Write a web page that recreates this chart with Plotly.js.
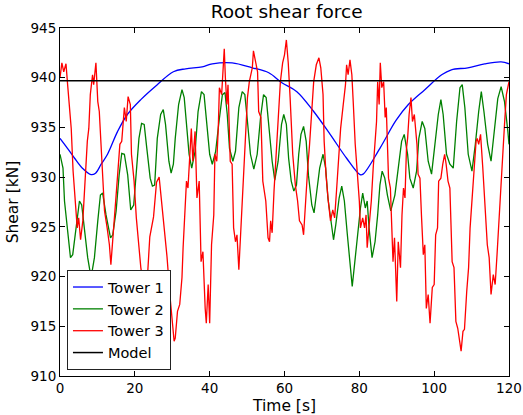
<!DOCTYPE html>
<html>
<head>
<meta charset="utf-8">
<script src="https://cdn.plot.ly/plotly-3.0.1.min.js"></script>
<style>html,body{margin:0;padding:0;background:#fff}#chart{width:523px;height:415px}</style>
</head>
<body>
<div id="chart"></div>
<script>
// Tower 1
var tower1Time = [0, 2, 3.9, 6, 8.3, 9.5, 11, 12.7, 15.4, 18, 21.6, 26, 30.3, 33.6, 38, 40.7, 46, 51.4, 55.8, 59.3, 63.3, 67.8, 72.2, 76.6, 80.2, 81, 85.5, 89.8, 93.1, 97.5, 102, 104.6, 109, 113.5, 117.9, 120];
var tower1Shear = [933.9, 932.9, 931.9, 930.9, 930.25, 930.4, 931.3, 932.3, 934.6, 936.3, 937.8, 939.3, 940.6, 940.9, 941.1, 941.4, 941.5, 941.0, 940.5, 939.5, 938.6, 936.6, 934.3, 931.9, 930.25, 930.3, 932.9, 935.7, 937.3, 938.8, 940.3, 940.8, 941.0, 941.4, 941.6, 941.4];

// Tower 2
var tower2Time = [0, 0.8, 1.2, 2.1, 2.8, 3.4, 4.3, 5.2, 5.8, 6.5, 7.4, 8.3, 9.2, 10.1, 10.8, 11.4, 12.3, 13.5, 14.1, 15, 15.8, 16.5, 17.2, 18.1, 18.9, 19.7, 20.4, 21.1, 21.8, 22.5, 23.2, 24.1, 24.7, 25.3, 26, 26.9, 27.6, 28.2, 29.1, 29.7, 30.3, 30.8, 31.7, 32.6, 33.2, 33.8, 34.5, 35.2, 36.1, 36.9, 37.8, 38.5, 39.4, 40, 40.7, 41.6, 42.5, 43.4, 44.1, 44.7, 45.3, 46.2, 46.9, 47.8, 48.7, 49.4, 50, 50.9, 51.8, 52.7, 53.6, 54.4, 55.1, 55.8, 56.7, 57.4, 58.3, 59.2, 59.8, 60.5, 61.1, 61.8, 62.5, 63.2, 63.8, 64.4, 65.1, 65.8, 66.4, 67.3, 67.9, 68.5, 69.4, 70.3, 71, 71.6, 72.5, 73.1, 73.7, 74.6, 75.3, 76, 76.8, 77.4, 78.1, 78.8, 79.5, 80.3, 80.9, 81.6, 82.1, 82.6, 83.4, 84.2, 84.9, 85.5, 86.1, 86.8, 87.5, 88.4, 89.5, 90.4, 91.3, 92, 92.9, 93.5, 94.4, 95.3, 95.9, 96.8, 97.5, 98.4, 99.3, 100.2, 101.1, 101.8, 102.4, 103.3, 104.2, 105.1, 106, 106.9, 107.5, 108.2, 109.1, 110.1, 111, 111.9, 112.6, 113.3, 114.3, 115.2, 116.1, 117, 117.9, 118.8, 119.7, 120];
var tower2Shear = [932.3, 930.9, 927.6, 924.2, 921.9, 922.2, 924.9, 927.6, 927.2, 924.9, 921.9, 919.9, 921.9, 925.6, 928.2, 928.4, 926.2, 923.9, 924.2, 926.6, 930.2, 932.4, 932.3, 930.2, 926.7, 927.2, 930.9, 933.9, 935.4, 935.3, 932.9, 929.9, 929.1, 929.2, 933.9, 936.3, 936.8, 935.3, 931.6, 930.4, 931.3, 933.9, 937.3, 938.8, 938.0, 934.9, 932.3, 930.9, 932.6, 936.6, 938.6, 938.3, 934.9, 932.3, 931.3, 932.6, 935.6, 938.3, 938.5, 936.3, 932.9, 931.6, 932.6, 937.0, 938.6, 938.3, 936.0, 932.3, 930.8, 932.3, 936.0, 938.3, 938.0, 934.9, 931.6, 929.7, 931.6, 935.3, 936.3, 935.3, 931.9, 929.6, 928.6, 929.2, 932.3, 934.3, 935.1, 933.6, 930.2, 927.2, 926.4, 928.2, 930.9, 932.3, 930.9, 927.9, 925.2, 923.7, 925.2, 927.9, 929.1, 927.6, 924.2, 921.5, 919.0, 921.5, 924.2, 926.9, 928.4, 926.9, 927.6, 924.9, 921.9, 923.5, 926.2, 929.2, 930.6, 929.9, 928.2, 926.6, 928.2, 930.9, 933.6, 934.3, 932.3, 929.9, 928.9, 930.6, 933.9, 935.6, 934.9, 931.6, 930.3, 933.3, 936.3, 937.8, 936.3, 932.3, 931.3, 930.9, 935.6, 939.0, 939.3, 937.0, 932.3, 930.6, 933.3, 936.6, 938.6, 936.6, 933.3, 931.6, 934.9, 937.9, 939.1, 937.6, 934.6, 933.3];

// Tower 3
var tower3Time = [0, 0.5, 1.0, 1.6, 2.1, 2.6, 3.0, 3.5, 4.1, 4.6, 5.0, 5.5, 6.1, 6.7, 7.3, 7.7, 8.1, 8.7, 9.0, 9.6, 10.1, 10.5, 11.2, 11.9, 12.6, 13.2, 13.6, 14.1, 14.7, 15.4, 16, 16.5, 17.2, 17.7, 18.2, 18.8, 19.1, 19.8, 20.4, 21, 21.6, 22, 22.5, 23.3, 24, 25, 25.8, 26.5, 27, 27.8, 28.6, 29.4, 30, 30.5, 30.8, 31.4, 32.0, 32.6, 32.9, 33.4, 33.8, 34.2, 34.7, 35.1, 35.5, 36.1, 36.6, 37.2, 37.7, 38.2, 38.8, 39.1, 39.6, 40.0, 40.5, 41.1, 41.4, 41.9, 42.3, 42.6, 43.2, 43.5, 43.9, 44.2, 44.6, 44.9, 45.5, 46.0, 46.4, 46.9, 47.3, 47.8, 48.3, 48.9, 49.6, 50.1, 50.6, 51.0, 51.4, 51.7, 52.3, 52.8, 53.1, 53.7, 54.2, 54.7, 55.0, 55.6, 56.0, 56.3, 56.7, 57.2, 57.7, 58.4, 58.9, 59.5, 60.0, 60.5, 61.0, 61.5, 62.2, 62.9, 63.5, 64.0, 64.7, 65.1, 65.6, 66.2, 66.7, 67.3, 67.8, 68.5, 69.2, 69.7, 70.3, 70.6, 71.1, 71.7, 72.3, 72.9, 73.4, 73.9, 74.5, 75.0, 75.7, 76.3, 76.6, 77.0, 77.5, 78.0, 78.4, 78.9, 79.5, 80.0, 80.3, 80.9, 81.4, 81.8, 82.1, 82.6, 83.2, 83.7, 84.2, 84.6, 84.9, 85.3, 85.6, 86.0, 86.5, 86.9, 87.2, 87.8, 88.3, 88.6, 89.0, 89.4, 90.0, 90.4, 91.0, 91.4, 91.8, 92.2, 92.6, 92.9, 93.3, 93.8, 94.2, 94.7, 95.0, 95.4, 95.7, 96.2, 96.6, 97.1, 97.5, 97.9, 98.4, 98.9, 99.5, 100.0, 100.4, 100.9, 101.2, 101.8, 102.3, 102.8, 103.2, 103.7, 104.2, 104.8, 105.3, 105.8, 106.3, 106.9, 107.2, 107.7, 108.1, 108.7, 109.2, 109.6, 110.1, 110.7, 111.2, 111.5, 111.9, 112.4, 113.0, 113.5, 114.2, 114.7, 115.2, 115.8, 116.3, 116.8, 117.2, 117.7, 118.2, 118.8, 119.3, 119.8, 120];
var tower3Shear = [940.0, 941.5, 940.6, 941.4, 939.0, 937.0, 934.9, 930.6, 926.9, 924.9, 925.9, 923.7, 925.6, 929.9, 933.6, 934.9, 938.3, 940.3, 939.3, 941.5, 937.6, 936.6, 931.6, 926.6, 924.9, 923.2, 921.2, 923.5, 926.9, 930.2, 933.3, 933.6, 937.0, 935.6, 938.1, 937.3, 932.3, 929.6, 925.9, 923.2, 920.9, 919.9, 918.5, 919.5, 924.0, 926.0, 929.5, 930.0, 928.0, 925.0, 922.0, 918.0, 915.0, 913.5, 913.8, 916.5, 917.2, 919.9, 922.9, 926.2, 929.6, 928.9, 932.3, 934.9, 931.6, 934.6, 927.9, 929.6, 921.5, 922.5, 916.8, 915.3, 919.2, 915.3, 923.2, 926.2, 932.3, 931.6, 934.9, 939.0, 938.3, 940.6, 942.9, 940.0, 937.3, 939.3, 931.6, 931.3, 924.9, 923.5, 924.2, 920.7, 924.2, 929.6, 933.6, 938.0, 939.6, 940.3, 941.0, 942.7, 941.6, 940.6, 936.6, 936.0, 929.6, 928.6, 927.6, 923.9, 923.5, 925.6, 924.4, 928.6, 931.6, 936.0, 939.6, 941.5, 942.3, 943.8, 941.5, 938.0, 932.3, 929.2, 927.6, 925.6, 925.2, 924.2, 927.6, 930.9, 933.3, 937.3, 939.6, 941.3, 942.0, 941.0, 938.3, 933.6, 930.2, 927.6, 925.6, 926.7, 925.9, 928.6, 932.3, 934.9, 937.3, 939.3, 941.3, 940.3, 941.8, 940.3, 937.3, 933.3, 930.2, 927.6, 924.9, 925.9, 924.9, 926.2, 922.9, 924.9, 927.6, 930.9, 933.3, 935.6, 939.6, 937.3, 941.5, 939.0, 939.6, 936.0, 937.0, 929.9, 928.9, 926.2, 921.5, 923.9, 917.5, 923.5, 920.9, 926.2, 928.9, 927.9, 932.9, 933.9, 936.3, 938.0, 935.6, 936.3, 934.6, 933.3, 930.3, 929.9, 926.2, 922.2, 923.2, 916.8, 918.2, 915.3, 918.9, 919.2, 924.2, 924.9, 929.6, 929.9, 931.3, 932.3, 931.3, 929.6, 928.9, 921.5, 920.9, 915.5, 914.8, 913.5, 912.5, 914.5, 914.7, 918.5, 920.9, 924.9, 928.2, 930.9, 933.6, 933.9, 933.3, 934.3, 930.9, 927.6, 923.2, 921.9, 918.2, 920.2, 919.2, 922.2, 924.9, 927.6, 932.3, 935.3, 938.3, 939.5, 939.6];

// Model
var modelTime = [0, 120];
var modelShear = [939.7, 939.7];

var xTicks = [0, 20, 40, 60, 80, 100, 120];
var yTicks = [910, 915, 920, 925, 930, 935, 940, 945];

var traces = [
  {x: tower1Time, y: tower1Shear, name: 'Tower 1', mode: 'lines', line: {color: '#0000ff', width: 1.3, shape: 'spline'}},
  {x: tower2Time, y: tower2Shear, name: 'Tower 2', mode: 'lines', line: {color: '#008000', width: 1.3}},
  {x: tower3Time, y: tower3Shear, name: 'Tower 3', mode: 'lines', line: {color: '#ff0000', width: 1.3}},
  {x: modelTime, y: modelShear, name: 'Model', mode: 'lines', line: {color: '#000000', width: 1.5}}
];

var axisCommon = {
  showgrid: false, zeroline: false, showline: true, linecolor: '#000', linewidth: 1,
  mirror: 'ticks', ticks: 'inside', ticklen: 5, tickcolor: '#000', tickwidth: 1,
  ticklabeloverflow: 'allow',
  tickfont: {family: 'DejaVu Sans', size: 13.5, color: '#000'}
};

var layout = {
  width: 523, height: 415,
  margin: {l: 60, r: 14, t: 28, b: 39},
  paper_bgcolor: '#fff', plot_bgcolor: '#fff',
  font: {family: 'DejaVu Sans', color: '#000'},
  title: {text: 'Root shear force', font: {family: 'DejaVu Sans', size: 18.5, color: '#000'}, x: 0.548, xanchor: 'center', y: 0.988, yanchor: 'top'},
  xaxis: Object.assign({}, axisCommon, {range: [0, 120], tickvals: xTicks, ticktext: xTicks.map(String),
    title: {text: 'Time [s]', font: {family: 'DejaVu Sans', size: 15.5, color: '#000'}, standoff: 4}}),
  yaxis: Object.assign({}, axisCommon, {range: [910, 945], tickvals: yTicks, ticktext: yTicks.map(String),
    title: {text: 'Shear [kN]', font: {family: 'DejaVu Sans', size: 15.5, color: '#000'}, standoff: 8}}),
  showlegend: true,
  legend: {x: 0.0155, y: 0.017, xanchor: 'left', yanchor: 'bottom', bgcolor: '#fff', bordercolor: '#222', borderwidth: 1,
    font: {family: 'DejaVu Sans', size: 14.5, color: '#000'}, tracegroupgap: 0, itemwidth: 30}
};

Plotly.newPlot('chart', traces, layout, {staticPlot: true, displayModeBar: false});
</script>
</body>
</html>
